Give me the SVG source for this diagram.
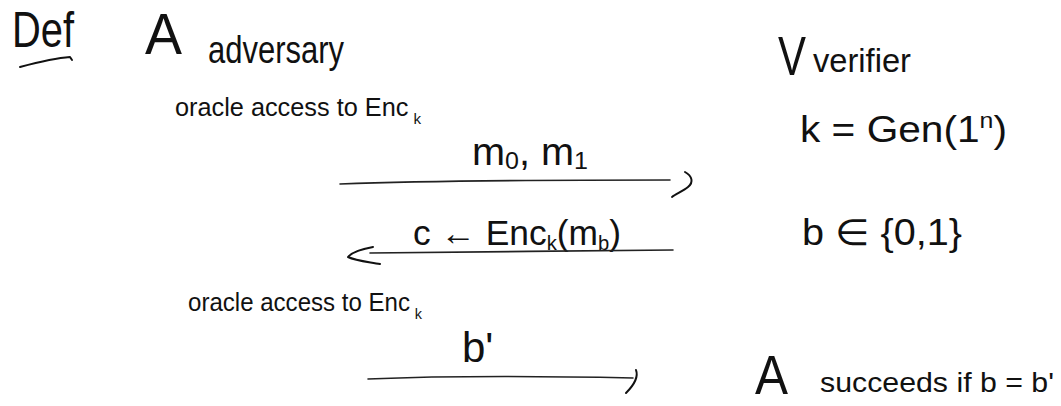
<svg xmlns="http://www.w3.org/2000/svg" width="1061" height="406" viewBox="0 0 1061 406">
  <style>
    .hand { font-family: "Liberation Sans", "DejaVu Sans", sans-serif; fill: #111; }
    .ink { fill: none; stroke: #111; stroke-width: 2; stroke-linecap: round; stroke-linejoin: round; }
    .ink-thin { fill: none; stroke: #222; stroke-width: 1.6; stroke-linecap: round; }
    .sub { font-size: 15px; }
  </style>
  <rect width="1061" height="406" fill="#fff"/>

  <!-- heading -->
  <g id="title">
    <text class="hand" x="12" y="47" font-size="50" textLength="62" lengthAdjust="spacingAndGlyphs">Def</text>
    <path class="ink" d="M20,67 C35,63 55,58 70,57 L72,60"/>
  </g>

  <!-- adversary side -->
  <g id="adversary">
    <text class="hand" x="145" y="54" font-size="58" textLength="37" lengthAdjust="spacingAndGlyphs">A</text>
    <text class="hand" x="208" y="63" font-size="38" textLength="136" lengthAdjust="spacingAndGlyphs">adversary</text>
  </g>

  <g id="oracle-1">
    <text class="hand" x="175" y="116" font-size="25" textLength="246" lengthAdjust="spacingAndGlyphs">oracle access to Enc<tspan class="sub" dx="5" dy="8">k</tspan></text>
  </g>

  <g id="oracle-2">
    <text class="hand" x="188" y="311" font-size="25" textLength="234" lengthAdjust="spacingAndGlyphs">oracle access to Enc<tspan class="sub" dx="5" dy="8">k</tspan></text>
  </g>

  <!-- verifier side -->
  <g id="verifier">
    <text class="hand" x="778" y="75" font-size="56" textLength="28" lengthAdjust="spacingAndGlyphs">V</text>
    <text class="hand" x="813" y="72" font-size="34" textLength="98" lengthAdjust="spacingAndGlyphs">verifier</text>
  </g>

  <g id="keygen">
    <text class="hand" x="800" y="142" font-size="36" textLength="207" lengthAdjust="spacingAndGlyphs">k = Gen(1<tspan font-size="22" dy="-14">n</tspan><tspan dy="14">)</tspan></text>
  </g>

  <g id="challenge-bit">
    <text class="hand" x="802" y="245" font-size="36" textLength="160" lengthAdjust="spacingAndGlyphs">b ∈ {0,1}</text>
  </g>

  <g id="success">
    <text class="hand" x="755" y="394" font-size="56" textLength="33" lengthAdjust="spacingAndGlyphs">A</text>
    <text class="hand" x="820" y="392" font-size="28" textLength="234" lengthAdjust="spacingAndGlyphs">succeeds if b = b'</text>
  </g>

  <!-- message labels -->
  <g id="msg-1">
    <text class="hand" x="472" y="165" font-size="38" textLength="116" lengthAdjust="spacingAndGlyphs">m<tspan font-size="24" dy="4">0</tspan><tspan dy="-4">, m</tspan><tspan font-size="24" dy="4">1</tspan></text>
  </g>

  <g id="msg-2">
    <text class="hand" x="413" y="245" font-size="35" textLength="208" lengthAdjust="spacingAndGlyphs">c ← Enc<tspan font-size="20" dy="5">k</tspan><tspan dy="-5">(m</tspan><tspan font-size="20" dy="5">b</tspan><tspan dy="-5">)</tspan></text>
  </g>

  <g id="msg-3">
    <text class="hand" x="462" y="362" font-size="42">b'</text>
  </g>

  <!-- connectors -->
  <g id="connectors">
    <path class="ink-thin" d="M340,184 C420,181 560,180 670,180"/>
    <path class="ink" d="M685,172 C692,176 694,182 688,187 C683,191 676,194 672,197"/>

    <path class="ink-thin" d="M673,250 C580,251 460,252 370,253"/>
    <path class="ink" d="M373,247 C362,249 352,252 348,257 C356,261 370,262 380,264"/>

    <path class="ink-thin" d="M368,379 C440,376 540,376 633,378"/>
    <path class="ink" d="M636,370 C639,378 633,386 626,393"/>
  </g>
</svg>
